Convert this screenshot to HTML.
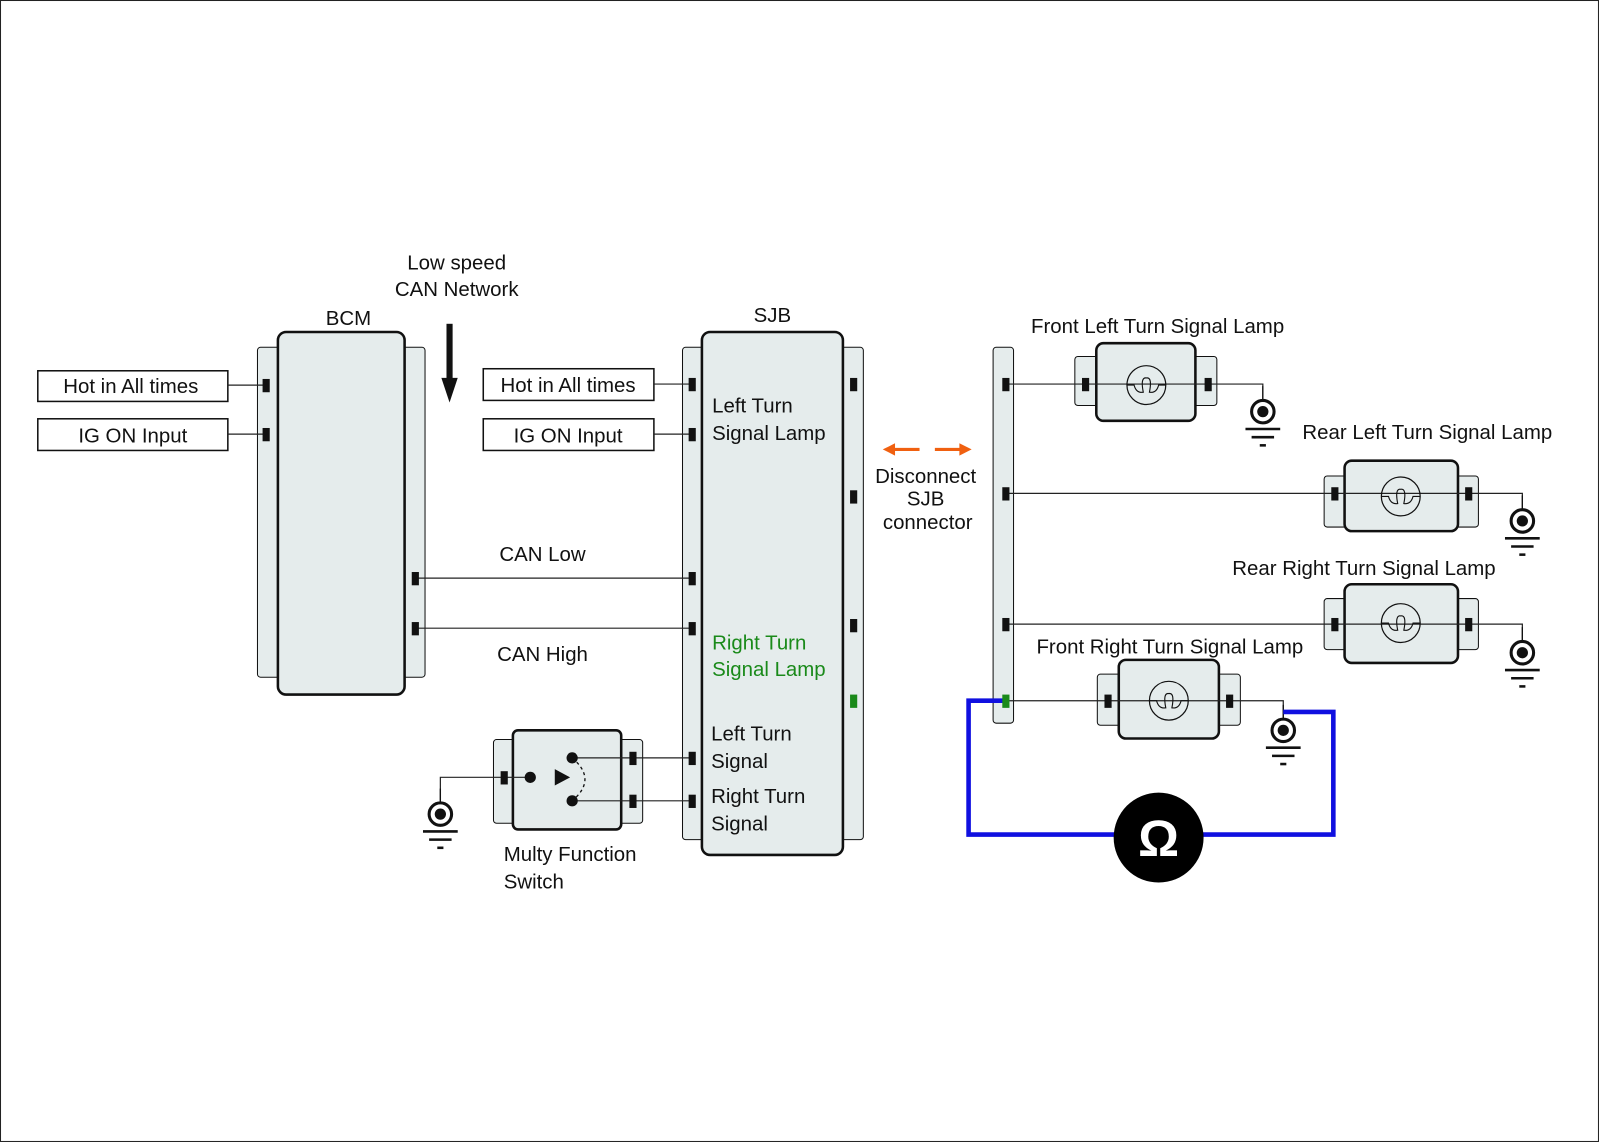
<!DOCTYPE html>
<html><head><meta charset="utf-8"><style>
html,body{margin:0;padding:0;background:#fff}
svg{display:block}
text{font-family:"Liberation Sans",Arial,sans-serif;font-size:20px;fill:#111}
</style></head><body>
<svg width="1600" height="1143" viewBox="0 0 1566 1119" preserveAspectRatio="none">
<defs>
<g id="gnd">
<line x1="0" y1="-25" x2="0" y2="-12" stroke="#111" stroke-width="1.3"/>
<circle cx="0" cy="0" r="11" fill="#fff" stroke="#111" stroke-width="3"/>
<circle cx="0" cy="0" r="5.5" fill="#111"/>
<line x1="-17" y1="17" x2="17" y2="17" stroke="#111" stroke-width="2.5"/>
<line x1="-11" y1="25" x2="11" y2="25" stroke="#111" stroke-width="2.5"/>
<line x1="-3" y1="33" x2="3" y2="33" stroke="#111" stroke-width="2.5"/>
</g>
<g id="bulb">
<circle cx="0" cy="0" r="19" fill="none" stroke="#111" stroke-width="1.2"/>
<path d="M-19 0 H-12 Q-10 8 -3 7 Q-6 -8 0 -7 Q6 -8 3 7 Q10 8 12 0 H19" fill="none" stroke="#111" stroke-width="1.1"/>
</g>
</defs>
<rect x="0.5" y="0.5" width="1564" height="1117" fill="#fff" stroke="#222" stroke-width="1"/>

<g stroke="#111" stroke-width="1" fill="#e5ecec">
<rect x="252" y="340" width="24" height="323" rx="3"/>
<rect x="392" y="340" width="24" height="323" rx="3"/>
<rect x="272" y="325" width="124" height="355" rx="8" stroke-width="2.5"/>
<rect x="668" y="340" width="23" height="482" rx="3"/>
<rect x="821" y="340" width="24" height="482" rx="3"/>
<rect x="687" y="325" width="138" height="512" rx="8" stroke-width="2.5"/>
<rect x="483" y="724" width="23" height="82" rx="3"/>
<rect x="604" y="724" width="25" height="82" rx="3"/>
<rect x="502" y="715" width="106" height="97" rx="5" stroke-width="2.5"/>
<rect x="972" y="340" width="20" height="368" rx="3"/>
<rect x="1052" y="349" width="25" height="48" rx="3"/><rect x="1166" y="349" width="25" height="48" rx="3"/>
<rect x="1073" y="336" width="97" height="76" rx="7" stroke-width="2.5"/>
<rect x="1296" y="466" width="24" height="50" rx="3"/><rect x="1423" y="466" width="24" height="50" rx="3"/>
<rect x="1316" y="451" width="111" height="69" rx="7" stroke-width="2.5"/>
<rect x="1296" y="586" width="24" height="50" rx="3"/><rect x="1423" y="586" width="24" height="50" rx="3"/>
<rect x="1316" y="572" width="111" height="77" rx="7" stroke-width="2.5"/>
<rect x="1074" y="660" width="25" height="50" rx="3"/><rect x="1189" y="660" width="25" height="50" rx="3"/>
<rect x="1095" y="646" width="98" height="77" rx="7" stroke-width="2.5"/>
</g>

<g fill="#fff" stroke="#111" stroke-width="1.5">
<rect x="37" y="363" width="186" height="30"/><rect x="37" y="410" width="186" height="31"/>
<rect x="473" y="361" width="167" height="31"/><rect x="473" y="410" width="167" height="31"/>
</g>

<g stroke="#222" stroke-width="1.2" fill="none">
<line x1="223" y1="377" x2="260" y2="377"/><line x1="223" y1="425" x2="260" y2="425"/>
<line x1="640" y1="376" x2="677" y2="376"/><line x1="640" y1="425" x2="677" y2="425"/>
<line x1="406" y1="566" x2="677" y2="566"/><line x1="406" y1="615" x2="677" y2="615"/>
<line x1="560" y1="742" x2="677" y2="742"/><line x1="560" y1="784" x2="677" y2="784"/>
<polyline points="431,786 431,761 519,761"/>
<line x1="984" y1="376" x2="1182" y2="376"/><polyline points="1182,376 1236,376 1236,391"/>
<line x1="984" y1="483" x2="1437" y2="483"/><polyline points="1437,483 1490,483 1490,498"/>
<line x1="984" y1="611" x2="1437" y2="611"/><polyline points="1437,611 1490,611 1490,627"/>
<line x1="984" y1="686" x2="1203" y2="686"/><polyline points="1203,686 1256,686 1256,703"/>
</g>
<path d="M560 742 Q585 763 560 784" fill="none" stroke="#111" stroke-width="1.3" stroke-dasharray="3,3"/>
<circle cx="519" cy="761" r="5.5" fill="#111"/><circle cx="560" cy="742" r="5.5" fill="#111"/><circle cx="560" cy="784" r="5.5" fill="#111"/>
<polygon points="543,753 558,761 543,769" fill="#111"/>

<g fill="#111">
<rect x="257" y="371" width="7" height="13"/><rect x="257" y="419" width="7" height="13"/>
<rect x="403" y="560" width="7" height="13"/><rect x="403" y="609" width="7" height="13"/>
<rect x="674" y="370" width="7" height="13"/><rect x="674" y="419" width="7" height="13"/>
<rect x="674" y="560" width="7" height="13"/><rect x="674" y="609" width="7" height="13"/>
<rect x="674" y="736" width="7" height="13"/><rect x="674" y="778" width="7" height="13"/>
<rect x="832" y="370" width="7" height="13"/><rect x="832" y="480" width="7" height="13"/>
<rect x="832" y="606" width="7" height="13"/>
<rect x="490" y="755" width="7" height="13"/><rect x="616" y="736" width="7" height="13"/><rect x="616" y="778" width="7" height="13"/>
<rect x="981" y="370" width="7" height="13"/><rect x="981" y="477" width="7" height="13"/><rect x="981" y="605" width="7" height="13"/>
<rect x="1059" y="370" width="7" height="13"/><rect x="1179" y="370" width="7" height="13"/>
<rect x="1303" y="477" width="7" height="13"/><rect x="1434" y="477" width="7" height="13"/>
<rect x="1303" y="605" width="7" height="13"/><rect x="1434" y="605" width="7" height="13"/>
<rect x="1081" y="680" width="7" height="13"/><rect x="1200" y="680" width="7" height="13"/>
</g>
<rect x="832" y="680" width="7" height="13" fill="#1a8a1a"/>

<use href="#bulb" x="1122" y="377"/><use href="#bulb" x="1371" y="486"/><use href="#bulb" x="1371" y="610"/><use href="#bulb" x="1144" y="686"/>
<use href="#gnd" x="431" y="797"/><use href="#gnd" x="1236" y="403"/><use href="#gnd" x="1490" y="510"/><use href="#gnd" x="1490" y="639"/><use href="#gnd" x="1256" y="715"/>

<polyline points="982,686 948,686 948,817 1305,817 1305,697 1256,697" fill="none" stroke="#1010e0" stroke-width="4.5"/>
<rect x="981" y="680" width="7" height="13" fill="#1a8a1a"/>
<circle cx="1134" cy="820" r="44" fill="#000"/>
<text x="1134" y="838" text-anchor="middle" style="font-size:50px;fill:#fff;font-weight:bold">Ω</text>

<rect x="437" y="317" width="6" height="55" fill="#111"/>
<polygon points="432,370 448,370 440,394" fill="#111"/>

<g stroke="#f06010" stroke-width="3" fill="#f06010">
<line x1="872" y1="440" x2="900" y2="440"/><polygon points="864,440 876,434 876,446" stroke="none"/>
<line x1="915" y1="440" x2="943" y2="440"/><polygon points="951,440 939,434 939,446" stroke="none"/>
</g>

<text x="128" y="385" text-anchor="middle">Hot in All times</text>
<text x="130" y="433" text-anchor="middle">IG ON Input</text>
<text x="556" y="384" text-anchor="middle">Hot in All times</text>
<text x="556" y="433" text-anchor="middle">IG ON Input</text>
<text x="341" y="318" text-anchor="middle">BCM</text>
<text x="756" y="315" text-anchor="middle">SJB</text>
<text x="447" y="264" text-anchor="middle">Low speed</text>
<text x="447" y="290" text-anchor="middle">CAN Network</text>
<text x="531" y="549" text-anchor="middle">CAN Low</text>
<text x="531" y="647" text-anchor="middle">CAN High</text>
<text x="697" y="404">Left Turn</text>
<text x="697" y="431">Signal Lamp</text>
<text x="697" y="636" style="fill:#1a8a1a">Right Turn</text>
<text x="697" y="662" style="fill:#1a8a1a">Signal Lamp</text>
<text x="696" y="725">Left Turn</text>
<text x="696" y="752">Signal</text>
<text x="696" y="786">Right Turn</text>
<text x="696" y="813">Signal</text>
<text x="493" y="843">Multy Function</text>
<text x="493" y="870">Switch</text>
<text x="906" y="473" text-anchor="middle">Disconnect</text>
<text x="906" y="495" text-anchor="middle">SJB</text>
<text x="908" y="518" text-anchor="middle">connector</text>
<text x="1133" y="326" text-anchor="middle">Front Left Turn Signal Lamp</text>
<text x="1397" y="430" text-anchor="middle">Rear Left Turn Signal Lamp</text>
<text x="1335" y="563" text-anchor="middle">Rear Right Turn Signal Lamp</text>
<text x="1145" y="640" text-anchor="middle">Front Right Turn Signal Lamp</text>
</svg>
</body></html>
